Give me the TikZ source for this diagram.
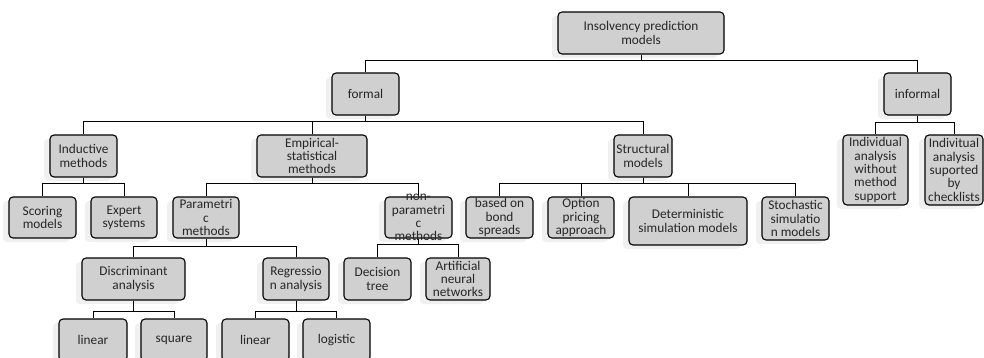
\documentclass[tikz,border=0pt]{standalone}
\usepackage{fontspec}
\setmainfont{Carlito}
\usetikzlibrary{positioning,shadows}
\definecolor{boxgray}{HTML}{D0D0D0}
\tikzset{
mybox/.style={
  draw,
  line width=1.1pt,
  rounded corners=4pt,
  fill=boxgray,
  align=center,
  inner sep=1pt,
  text=black!85,
  font=\fontsize{13.3}{13.3}\selectfont,
  drop shadow={shadow xshift=-6pt,shadow yshift=-4pt,fill=black!6,opacity=1},
  minimum width=#1,
  minimum height=41pt
  },
mybox/.default=67pt,
mytext/.style={
  align=center,
  inner sep=0pt,
  text=black!85,
  font=\fontsize{13.3}{13.3}\selectfont
  },
mylink/.style={line width=1pt}
}

\begin{document}
\begin{tikzpicture}[x=1pt,y=-1pt]

\clip (0,0) rectangle (984,358);

% top levels
\node[mybox=166pt,minimum height=42pt] (root) at (641,33) {Insolvency prediction\\models};
\node[mybox,minimum height=42pt] (formal) at (365.5,94) {formal};
\node[mybox,minimum height=42pt] (informal) at (917.5,94) {informal};

\node[mybox,minimum height=42pt] (induct) at (83.5,156) {Inductive\\methods};
\node[mybox=110pt,minimum height=42pt] (empir) at (312,156) {Empirical-\\statistical\\methods};
\node[mybox=58pt,minimum height=42pt] (struct) at (643,156) {Structural\\models};

% third row
\node[mybox] (scoring) at (42.5,217.5) {Scoring\\models};
\node[mybox=66pt] (expert) at (124,217.5) {Expert\\systems};
\node[mybox=66pt] (param) at (206,217.5) {Parametri\\c\\methods};
\node[mybox] (nonpar) at (418.5,217.5) {};
\node[mybox] (bond) at (499.5,217.5) {based on\\bond\\spreads};
\node[mybox=66pt] (option) at (581,217.5) {Option\\pricing\\approach};
\node[mybox=118pt,minimum height=48pt] (determ) at (688,221) {Deterministic\\simulation models};
\node[mybox,minimum height=43pt] (stoch) at (795.5,218.5) {Stochastic\\simulatio\\n models};
\node[mybox=65pt,minimum height=70pt] (indiv1) at (875.5,170) {Individual\\analysis\\without\\method\\support};
\node[mybox=58pt,minimum height=70pt] (indiv2) at (954,170) {Indivitual\\analysis\\suported\\by\\checklists};

% fourth row
\node[mybox=103pt,minimum height=42pt] (discr) at (133.5,279) {Discriminant\\analysis};
\node[mybox=66pt,minimum height=42pt] (regr) at (296,279) {Regressio\\n analysis};
\node[mybox,minimum height=42pt] (decis) at (377.5,279) {Decision\\tree};
\node[mybox=64pt,minimum height=42pt] (neural) at (458,279) {Artificial\\neural\\networks};

% bottom row
\node[mybox=68pt,minimum height=42pt] (lin1) at (93,340) {linear};
\node[mybox=66pt,minimum height=42pt] (square) at (174,340) {square};
\node[mybox,minimum height=42pt] (lin2) at (255.5,340) {linear};
\node[mybox,minimum height=42pt] (logist) at (336.5,340) {logistic};

% connectors
\foreach \c in {formal,informal}
  \draw[mylink] (root.south) -- ++(0,6) -| (\c.north);
\foreach \c in {induct,empir,struct}
  \draw[mylink] (formal.south) -- ++(0,6) -| (\c.north);
\foreach \c in {indiv1,indiv2}
  \draw[mylink] (informal.south) -- ++(0,7) -| (\c.north);
\foreach \c in {scoring,expert}
  \draw[mylink] (induct.south) -- ++(0,6) -| (\c.north);
\foreach \c in {param,nonpar}
  \draw[mylink] (empir.south) -- ++(0,6) -| (\c.north);
\foreach \c in {bond,option,determ,stoch}
  \draw[mylink] (struct.south) -- ++(0,6) -| (\c.north);
\foreach \c in {discr,regr}
  \draw[mylink] (param.south) -- ++(0,8) -| (\c.north);
\foreach \c in {decis,neural}
  \draw[mylink] (nonpar.south) -- ++(0,6) -| (\c.north);
\foreach \c in {lin1,square}
  \draw[mylink] (discr.south) -- ++(0,11) -| (\c.north);
\foreach \c in {lin2,logist}
  \draw[mylink] (regr.south) -- ++(0,11) -| (\c.north);

% text running out of its box
\node[mytext] (nonpartext) at (nonpar.center) {non-\\parametri\\c\\methods};

\end{tikzpicture}
\end{document}
